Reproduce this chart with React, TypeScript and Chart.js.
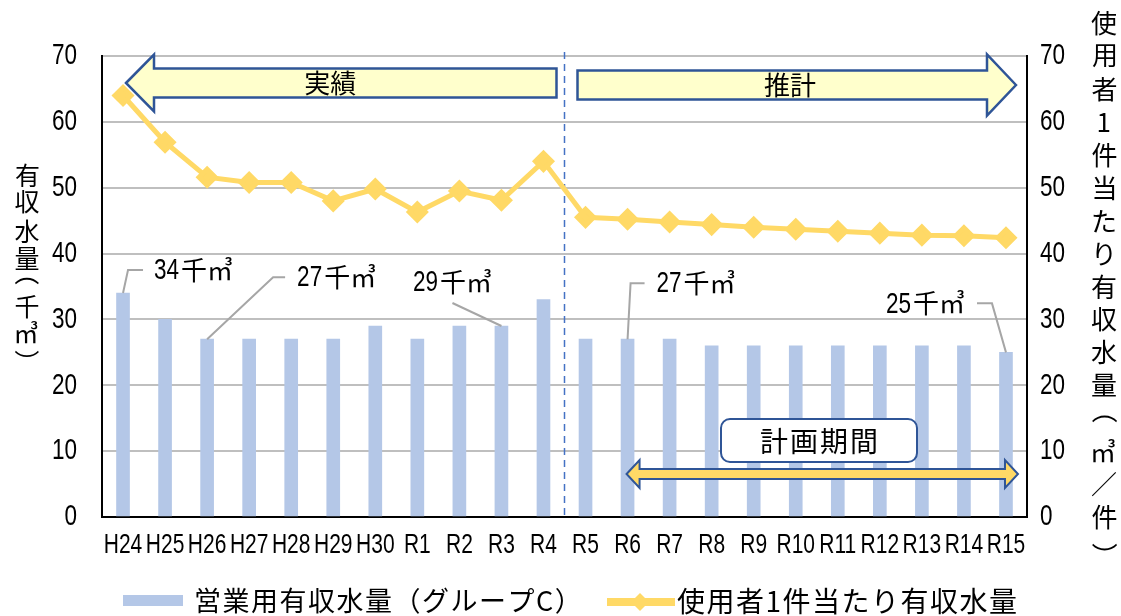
import React, { useEffect, useRef } from "react";
import { Chart, registerables } from "chart.js";

Chart.register(...registerables);

const categories = ["H24", "H25", "H26", "H27", "H28", "H29", "H30", "R1", "R2", "R3", "R4", "R5", "R6", "R7", "R8", "R9", "R10", "R11", "R12", "R13", "R14", "R15"];
const commercialVolume = [34, 30, 27, 27, 27, 27, 29, 27, 29, 29, 33, 27, 27, 27, 26, 26, 26, 26, 26, 26, 26, 25];
const perUserVolume = [64.0, 56.9, 51.6, 50.8, 50.8, 48.0, 49.8, 46.3, 49.5, 48.1, 54.0, 45.5, 45.2, 44.8, 44.4, 44.0, 43.7, 43.4, 43.1, 42.8, 42.7, 42.4];
const yTicks = [0, 10, 20, 30, 40, 50, 60, 70];
const labeledBars = [0, 2, 9, 12, 21];
const lastActualIndex = 10;
const planStartIndex = 12;

const barLabel = "営業用有収水量（グループC）";
const lineLabel = "使用者1件当たり有収水量";
// vertical titles; brackets are written horizontally and turned 90°
const leftTitle = ["有", "収", "水", "量", "（", "千", "㎥", "）"];
const leftTitleY = [175, 202, 231, 258, 281, 306, 332, 354];
const rightTitle = ["使", "用", "者", "1", "件", "当", "た", "り", "有", "収", "水", "量", "（", "㎥", "／", "件", "）"];
const rightTitleY = [23, 56, 89, 122, 155, 188, 221, 254, 287, 319, 352, 385, 419, 451, 484, 517, 547];
const actualText = "実績";
const forecastText = "推計";
const planText = "計画期間";
const unitText = "千㎥";

const LATIN = "'Liberation Sans', Arial, sans-serif";
const CJK = "'Noto Sans CJK JP', sans-serif";
const NARROW_X = 0.75;

const BAR_COLOR = "#B4C7E7";
const LINE_COLOR = "#FFD966";
const NAVY = "#2F5597";
const PALE = "#FFFFCC";
const LEADER = "#A6A6A6";

// leader line shapes per label: offsets relative to bar top
const leaderShapes: Record<number, { pts: [number, number][]; tx: number; ty: number; align: string }> = {
  0: { pts: [[0, 0], [5, -23], [20, -23]], tx: 31, ty: -23, align: "left" },
  2: { pts: [[0, 0], [66, -62], [78, -62]], tx: 90, ty: -62, align: "left" },
  9: { pts: [[0, 0], [-49, -23]], tx: -49, ty: -44, align: "center" },
  12: { pts: [[0, 0], [3, -56], [17, -56]], tx: 29, ty: -56, align: "left" },
  21: { pts: [[0, 0], [-14, -49], [-29, -49]], tx: -41, ty: -49, align: "right" },
};

// draw a glyph with its visible ink box centred on (x, y); brackets are turned for vertical writing
function drawCentredGlyph(ctx: CanvasRenderingContext2D, c: string, x: number, y: number) {
  ctx.save();
  ctx.textAlign = "left";
  ctx.textBaseline = "alphabetic";
  const m = ctx.measureText(c);
  ctx.translate(x, y);
  if (c === "（" || c === "）") ctx.rotate(Math.PI / 2);
  const dx = -(m.actualBoundingBoxRight - m.actualBoundingBoxLeft) / 2;
  const dy = (m.actualBoundingBoxAscent - m.actualBoundingBoxDescent) / 2;
  ctx.fillText(c, dx, dy);
  ctx.restore();
}

function narrowWidth(ctx: CanvasRenderingContext2D, text: string, size: number) {
  ctx.font = `${size}px ${LATIN}`;
  return ctx.measureText(text).width * NARROW_X;
}

function drawNarrow(ctx: CanvasRenderingContext2D, text: string, x: number, y: number, size: number, align: CanvasTextAlign) {
  ctx.save();
  ctx.font = `${size}px ${LATIN}`;
  ctx.textAlign = align;
  ctx.textBaseline = "middle";
  ctx.translate(x, y);
  ctx.scale(NARROW_X, 1);
  ctx.fillText(text, 0, 0);
  ctx.restore();
}

function drawValueLabel(ctx: CanvasRenderingContext2D, value: number, x: number, y: number, align: string) {
  const num = String(value);
  const nw = narrowWidth(ctx, num, 30);
  ctx.font = `26px ${CJK}`;
  const uw = ctx.measureText(unitText).width;
  const total = nw + 2 + uw;
  let left = x;
  if (align === "center") left = x - total / 2;
  else if (align === "right") left = x - total;
  ctx.fillStyle = "#000";
  drawNarrow(ctx, num, left, y + 1, 30, "left");
  ctx.save();
  ctx.font = `26px ${CJK}`;
  ctx.textAlign = "left";
  ctx.textBaseline = "middle";
  ctx.fillText(unitText, left + nw + 2, y);
  ctx.restore();
}

function drawSingleArrow(ctx: CanvasRenderingContext2D, x0: number, x1: number, cy: number, bodyH: number, headH: number, headW: number, dir: number) {
  ctx.beginPath();
  if (dir < 0) {
    ctx.moveTo(x0, cy);
    ctx.lineTo(x0 + headW, cy - headH / 2);
    ctx.lineTo(x0 + headW, cy - bodyH / 2);
    ctx.lineTo(x1, cy - bodyH / 2);
    ctx.lineTo(x1, cy + bodyH / 2);
    ctx.lineTo(x0 + headW, cy + bodyH / 2);
    ctx.lineTo(x0 + headW, cy + headH / 2);
  } else {
    ctx.moveTo(x1, cy);
    ctx.lineTo(x1 - headW, cy - headH / 2);
    ctx.lineTo(x1 - headW, cy - bodyH / 2);
    ctx.lineTo(x0, cy - bodyH / 2);
    ctx.lineTo(x0, cy + bodyH / 2);
    ctx.lineTo(x1 - headW, cy + bodyH / 2);
    ctx.lineTo(x1 - headW, cy + headH / 2);
  }
  ctx.closePath();
}

function drawDoubleArrow(ctx: CanvasRenderingContext2D, x0: number, x1: number, cy: number, bodyH: number, headH: number, headW: number) {
  ctx.beginPath();
  ctx.moveTo(x0, cy);
  ctx.lineTo(x0 + headW, cy - headH / 2);
  ctx.lineTo(x0 + headW, cy - bodyH / 2);
  ctx.lineTo(x1 - headW, cy - bodyH / 2);
  ctx.lineTo(x1 - headW, cy - headH / 2);
  ctx.lineTo(x1, cy);
  ctx.lineTo(x1 - headW, cy + headH / 2);
  ctx.lineTo(x1 - headW, cy + bodyH / 2);
  ctx.lineTo(x0 + headW, cy + bodyH / 2);
  ctx.lineTo(x0 + headW, cy + headH / 2);
  ctx.closePath();
}

const decorPlugin = {
  id: "decor",
  beforeDatasetsDraw(chart: any) {
    const { ctx, chartArea, scales } = chart;
    const xs = scales.x;
    const divX = (xs.getPixelForValue(lastActualIndex) + xs.getPixelForValue(lastActualIndex + 1)) / 2;
    ctx.save();
    ctx.strokeStyle = "#4472C4";
    ctx.lineWidth = 1.5;
    ctx.setLineDash([7, 5]);
    ctx.beginPath();
    ctx.moveTo(divX, chartArea.top - 4);
    ctx.lineTo(divX, chartArea.bottom);
    ctx.stroke();
    ctx.restore();
  },
  afterDraw(chart: any) {
    const { ctx, chartArea, scales } = chart;
    const xs = scales.x;
    const ys = scales.y;
    const ys2 = scales.y2;
    const divX = (xs.getPixelForValue(lastActualIndex) + xs.getPixelForValue(lastActualIndex + 1)) / 2;
    ctx.save();
    ctx.fillStyle = "#000";

    // tick labels (narrow face)
    categories.forEach((c, i) => drawNarrow(ctx, c, xs.getPixelForValue(i), 545, 28, "center"));
    yTicks.forEach((v) => {
      drawNarrow(ctx, String(v), chartArea.left - 25, ys.getPixelForValue(v), 30, "right");
      drawNarrow(ctx, String(v), chartArea.right + 13, ys2.getPixelForValue(v), 30, "left");
    });

    // 実績 arrow (pointing left)
    ctx.lineWidth = 2.5;
    ctx.strokeStyle = NAVY;
    ctx.fillStyle = PALE;
    drawSingleArrow(ctx, chartArea.left + 24, divX - 8, chartArea.top + 27, 29, 57, 28, -1);
    ctx.fill();
    ctx.stroke();
    ctx.fillStyle = "#000";
    ctx.font = `26px ${CJK}`;
    ctx.textAlign = "center";
    ctx.textBaseline = "middle";
    ctx.fillText(actualText, (chartArea.left + divX) / 2 - 3, chartArea.top + 27);

    // 推計 arrow (pointing right)
    ctx.strokeStyle = NAVY;
    ctx.fillStyle = PALE;
    drawSingleArrow(ctx, divX + 13, chartArea.right - 11, chartArea.top + 29, 29, 61, 29, 1);
    ctx.fill();
    ctx.stroke();
    ctx.fillStyle = "#000";
    ctx.fillText(forecastText, 790, chartArea.top + 29);

    // bar value leader labels
    for (const i of labeledBars) {
      const shape = leaderShapes[i];
      const bx = xs.getPixelForValue(i);
      const by = ys.getPixelForValue(commercialVolume[i]);
      ctx.strokeStyle = LEADER;
      ctx.lineWidth = 2;
      ctx.beginPath();
      shape.pts.forEach(([dx, dy], k) => {
        if (k === 0) ctx.moveTo(bx + dx, by + dy);
        else ctx.lineTo(bx + dx, by + dy);
      });
      ctx.stroke();
      drawValueLabel(ctx, commercialVolume[i], bx + shape.tx, by + shape.ty, shape.align);
    }

    // 計画期間 box
    const bx0 = 721, by0 = 419, bw = 196, bh = 43;
    ctx.beginPath();
    ctx.roundRect(bx0, by0, bw, bh, 9);
    ctx.fillStyle = "#fff";
    ctx.fill();
    ctx.strokeStyle = NAVY;
    ctx.lineWidth = 2;
    ctx.stroke();
    ctx.fillStyle = "#000";
    ctx.font = `28px ${CJK}`;
    ctx.textAlign = "center";
    ctx.textBaseline = "middle";
    (ctx as any).letterSpacing = "2px";
    ctx.fillText(planText, bx0 + bw / 2 + 1, by0 + bh / 2 + 1);
    (ctx as any).letterSpacing = "0px";

    // plan period double arrow
    const px0 = xs.getPixelForValue(planStartIndex) - 1;
    const px1 = xs.getPixelForValue(categories.length - 1) + 12;
    drawDoubleArrow(ctx, px0, px1, 474, 10, 28, 13);
    ctx.fillStyle = LINE_COLOR;
    ctx.fill();
    ctx.strokeStyle = NAVY;
    ctx.lineWidth = 2;
    ctx.stroke();

    // axis titles
    ctx.fillStyle = "#000";
    ctx.font = `25px ${CJK}`;
    leftTitle.forEach((c, k) => drawCentredGlyph(ctx, c, 27, leftTitleY[k]));
    ctx.font = `26px ${CJK}`;
    rightTitle.forEach((c, k) => drawCentredGlyph(ctx, c, 1104, rightTitleY[k]));

    // legend
    ctx.fillStyle = BAR_COLOR;
    ctx.fillRect(123, 595, 60, 11);
    ctx.fillStyle = "#000";
    ctx.font = `27px ${CJK}`;
    ctx.textAlign = "left";
    ctx.textBaseline = "middle";
    (ctx as any).letterSpacing = "1.5px";
    ctx.fillText(barLabel, 194, 601);

    ctx.strokeStyle = LINE_COLOR;
    ctx.lineWidth = 8;
    ctx.beginPath();
    ctx.moveTo(607, 602);
    ctx.lineTo(675, 602);
    ctx.stroke();
    ctx.fillStyle = LINE_COLOR;
    ctx.beginPath();
    ctx.moveTo(640, 593);
    ctx.lineTo(649, 602);
    ctx.lineTo(640, 611);
    ctx.lineTo(631, 602);
    ctx.closePath();
    ctx.fill();
    ctx.fillStyle = "#000";
    ctx.font = `28px ${CJK}`;
    (ctx as any).letterSpacing = "1.5px";
    ctx.fillText(lineLabel, 677, 601);
    (ctx as any).letterSpacing = "0px";

    ctx.restore();
  },
};

export default function App() {
  const ref = useRef<HTMLCanvasElement>(null);
  useEffect(() => {
    if (!ref.current) return;
    const chart = new Chart(ref.current, {
      type: "bar",
      data: {
        labels: categories,
        datasets: [
          {
            type: "line",
            label: lineLabel,
            data: perUserVolume,
            yAxisID: "y2",
            borderColor: LINE_COLOR,
            backgroundColor: LINE_COLOR,
            borderWidth: 5,
            pointStyle: "rectRot",
            pointRadius: 8,
            pointBackgroundColor: LINE_COLOR,
            pointBorderColor: LINE_COLOR,
            tension: 0,
            order: 0,
          } as any,
          {
            type: "bar",
            label: barLabel,
            data: commercialVolume,
            yAxisID: "y",
            backgroundColor: BAR_COLOR,
            barThickness: 13,
            order: 1,
          },
        ],
      },
      options: {
        responsive: false,
        animation: false,
        layout: { padding: { top: 56, left: 0, right: 0, bottom: 0 } },
        plugins: { legend: { display: false }, tooltip: { enabled: false } },
        scales: {
          x: {
            grid: { display: false, drawTicks: false },
            border: { display: true, color: "#000", width: 2 },
            ticks: { display: false },
            afterFit: (s: any) => { s.height = 99; },
          },
          y: {
            position: "left",
            min: 0,
            max: 70,
            afterBuildTicks: (s: any) => { s.ticks = yTicks.map((v) => ({ value: v })); },
            ticks: { display: false },
            grid: { color: "#BFBFBF", lineWidth: 2, drawTicks: false },
            border: { display: true, color: "#000", width: 2 },
            afterFit: (s: any) => { s.width = 102; },
          },
          y2: {
            position: "right",
            min: 0,
            max: 70,
            afterBuildTicks: (s: any) => { s.ticks = yTicks.map((v) => ({ value: v })); },
            ticks: { display: false },
            grid: { display: false, drawTicks: false },
            border: { display: true, color: "#000", width: 2 },
            afterFit: (s: any) => { s.width = 94; },
          },
        },
      },
      plugins: [decorPlugin],
    });
    return () => chart.destroy();
  }, []);
  return (
    <div style={{ position: "fixed", left: 0, top: 0, width: 1121, height: 616, background: "#fff" }}>
      <canvas ref={ref} width={1121} height={616} />
    </div>
  );
}
